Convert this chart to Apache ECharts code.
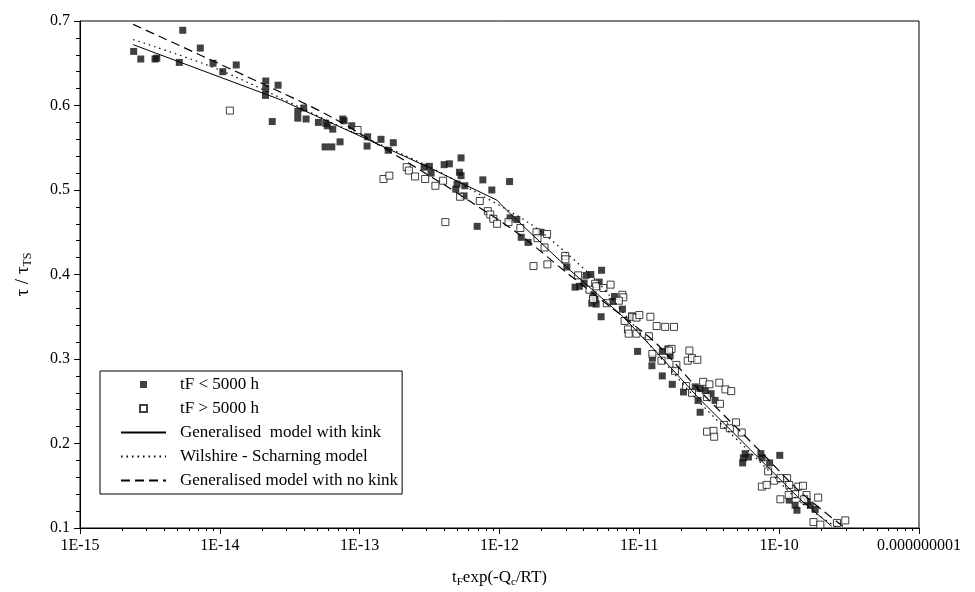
<!DOCTYPE html>
<html>
<head>
<meta charset="utf-8">
<script src="https://cdn.jsdelivr.net/npm/echarts@6/dist/echarts.min.js"></script>
<style>
  html, body { margin: 0; padding: 0; background: #fff; }
  #chart { width: 975px; height: 592px; }
</style>
</head>
<body>
<div id="chart"></div>
<script>
// tick labels of the log axis, one per decade
const xTickLabels = ['1E-15', '1E-14', '1E-13', '1E-12', '1E-11', '1E-10', '0.000000001']

// tF < 5000 h  (filled squares)  [tF exp(-Qc/RT), tau/tauTS]
const shortLife = [
  [2.42e-15, 0.664], [2.72e-15, 0.655], [3.44e-15, 0.655], [3.54e-15, 0.656], [5.43e-15, 0.689],
  [5.13e-15, 0.651], [7.25e-15, 0.668], [8.94e-15, 0.650], [1.05e-14, 0.640], [1.31e-14, 0.648],
  [2.13e-14, 0.629], [2.13e-14, 0.620], [2.12e-14, 0.612], [2.61e-14, 0.624], [2.37e-14, 0.581],
  [3.61e-14, 0.593], [3.61e-14, 0.585], [3.98e-14, 0.597], [4.14e-14, 0.584], [5.07e-14, 0.580],
  [5.72e-14, 0.579], [5.87e-14, 0.576], [6.42e-14, 0.572], [5.66e-14, 0.551], [6.32e-14, 0.551],
  [7.24e-14, 0.557], [7.57e-14, 0.584], [7.73e-14, 0.582], [8.78e-14, 0.576], [1.14e-13, 0.563],
  [1.13e-13, 0.552], [1.42e-13, 0.560], [1.74e-13, 0.556], [1.60e-13, 0.547], [2.89e-13, 0.527],
  [3.15e-13, 0.528], [3.24e-13, 0.520], [4.02e-13, 0.530], [4.38e-13, 0.531], [5.31e-13, 0.538],
  [5.17e-13, 0.521], [5.31e-13, 0.517], [4.97e-13, 0.507], [4.87e-13, 0.501], [5.65e-13, 0.505],
  [5.58e-13, 0.493], [7.60e-13, 0.512], [8.81e-13, 0.500], [1.18e-12, 0.510], [6.92e-13, 0.457],
  [1.19e-12, 0.467], [1.33e-12, 0.465], [1.43e-12, 0.444], [1.60e-12, 0.438], [1.98e-12, 0.450],
  [3.03e-12, 0.409], [4.16e-12, 0.399], [4.50e-12, 0.400], [3.47e-12, 0.385], [3.73e-12, 0.386],
  [4.03e-12, 0.390], [5.37e-12, 0.405], [5.16e-12, 0.391], [4.67e-12, 0.376], [4.83e-12, 0.370],
  [4.91e-12, 0.365], [4.57e-12, 0.366], [5.33e-12, 0.350], [6.64e-12, 0.374], [6.42e-12, 0.368],
  [7.57e-12, 0.359], [8.81e-12, 0.351], [9.72e-12, 0.309], [1.46e-11, 0.309], [1.60e-11, 0.312],
  [1.24e-11, 0.301], [1.23e-11, 0.292], [1.66e-11, 0.304], [1.46e-11, 0.280], [1.72e-11, 0.270],
  [2.51e-11, 0.267], [2.72e-11, 0.265], [2.96e-11, 0.263], [2.07e-11, 0.261], [2.63e-11, 0.251],
  [2.72e-11, 0.237], [3.26e-11, 0.259], [3.48e-11, 0.251], [5.71e-11, 0.188], [5.55e-11, 0.183],
  [5.48e-11, 0.177], [6.03e-11, 0.184], [7.40e-11, 0.188], [7.56e-11, 0.183], [8.55e-11, 0.177],
  [1.01e-10, 0.186], [1.18e-10, 0.133], [1.30e-10, 0.127], [1.34e-10, 0.121], [1.59e-10, 0.131],
  [1.67e-10, 0.127], [1.81e-10, 0.122]
]

// tF > 5000 h  (open squares)
const longLife = [
  [1.18e-14, 0.594], [9.66e-14, 0.571], [2.17e-13, 0.527], [2.25e-13, 0.523], [1.48e-13, 0.513],
  [1.63e-13, 0.517], [2.49e-13, 0.516], [2.94e-13, 0.513], [3.48e-13, 0.505], [3.95e-13, 0.511],
  [5.23e-13, 0.492], [4.10e-13, 0.462], [7.23e-13, 0.487], [8.25e-13, 0.475], [8.59e-13, 0.471],
  [9.03e-13, 0.466], [9.61e-13, 0.460], [1.16e-12, 0.462], [1.41e-12, 0.455], [1.84e-12, 0.450],
  [1.87e-12, 0.443], [2.19e-12, 0.448], [2.10e-12, 0.432], [1.75e-12, 0.410], [2.20e-12, 0.412],
  [2.95e-12, 0.422], [2.96e-12, 0.418], [3.65e-12, 0.399], [4.83e-12, 0.389], [4.91e-12, 0.386],
  [5.54e-12, 0.384], [6.23e-12, 0.388], [4.40e-12, 0.382], [4.67e-12, 0.371], [5.85e-12, 0.366],
  [7.56e-12, 0.376], [7.68e-12, 0.373], [7.14e-12, 0.369], [7.85e-12, 0.345], [8.88e-12, 0.350],
  [9.54e-12, 0.349], [1.00e-11, 0.352], [8.29e-12, 0.335], [8.39e-12, 0.330], [9.54e-12, 0.330],
  [1.20e-11, 0.350], [1.17e-11, 0.327], [1.33e-11, 0.339], [1.53e-11, 0.338], [1.77e-11, 0.338],
  [1.24e-11, 0.306], [1.70e-11, 0.312], [1.63e-11, 0.310], [2.28e-11, 0.310], [2.22e-11, 0.298],
  [2.38e-11, 0.301], [2.60e-11, 0.299], [1.44e-11, 0.298], [1.84e-11, 0.293], [1.80e-11, 0.286],
  [2.16e-11, 0.268], [2.38e-11, 0.260], [2.86e-11, 0.273], [3.17e-11, 0.270], [3.73e-11, 0.272],
  [4.13e-11, 0.264], [4.54e-11, 0.262], [3.04e-11, 0.255], [3.77e-11, 0.247], [3.05e-11, 0.214],
  [3.39e-11, 0.215], [3.43e-11, 0.208], [4.04e-11, 0.222], [4.44e-11, 0.218], [4.91e-11, 0.225],
  [5.40e-11, 0.213], [8.34e-11, 0.167], [7.52e-11, 0.149], [8.14e-11, 0.151], [9.21e-11, 0.156],
  [1.02e-10, 0.159], [1.14e-10, 0.159], [1.18e-10, 0.151], [1.30e-10, 0.140], [1.37e-10, 0.149],
  [1.48e-10, 0.150], [1.57e-10, 0.139], [1.02e-10, 0.134], [1.17e-10, 0.139], [1.51e-10, 0.134],
  [1.90e-10, 0.136], [1.76e-10, 0.107], [1.97e-10, 0.104], [2.59e-10, 0.106], [2.97e-10, 0.109]
]

// model curves
const kinkModel = [
  [2.4e-15, 0.672], [2.7e-14, 0.607], [3.19e-13, 0.526], [9.57e-13, 0.488], [1.19e-12, 0.472],
  [3.2e-12, 0.405], [7.66e-12, 0.350], [1.33e-11, 0.308], [2.72e-11, 0.252], [1.41e-10, 0.134],
  [2.38e-10, 0.102]
]
const wilshireModel = [
  [2.4e-15, 0.678], [1.0e-14, 0.642], [6.86e-14, 0.577], [3.19e-13, 0.527], [6.51e-13, 0.499],
  [1.66e-12, 0.460], [3.03e-12, 0.425], [5.24e-12, 0.388], [7.66e-12, 0.355], [1.33e-11, 0.307],
  [2.72e-11, 0.248], [7.31e-11, 0.178], [1.41e-10, 0.131], [2.64e-10, 0.100]
]
const noKinkModel = [
  [2.4e-15, 0.696], [2.7e-14, 0.616], [6.49e-14, 0.585], [3.37e-13, 0.514], [6.51e-13, 0.484],
  [1.40e-12, 0.447], [3.03e-12, 0.402], [7.66e-12, 0.350], [1.33e-11, 0.318], [2.72e-11, 0.262],
  [7.31e-11, 0.191], [1.41e-10, 0.143], [2.96e-10, 0.100]
]

// minor tick positions 2..9 in each decade
const minorTicks = []
for (let d = -15; d < -9; d++) {
  for (let m = 2; m <= 9; m++) minorTicks.push(m * Math.pow(10, d))
}

const serif = 'Liberation Serif'
const black = '#000'
// small square centred in a 45x7 legend cell
const squareIcon = 'path://M0,0M45,7M19,0h7v7h-7z'

const chart = echarts.init(document.getElementById('chart'))
chart.setOption({
  animation: false,
  backgroundColor: '#fff',
  grid: {
    left: 80, right: 56, top: 21, bottom: 64,
    show: true, borderColor: black, borderWidth: 1,
    outerBoundsMode: 'none'
  },
  legend: {
    left: 100, top: 371,
    orient: 'vertical',
    selectedMode: false,
    itemWidth: 45, itemHeight: 7, itemGap: 7,
    padding: [5, 4, 5, 20],
    borderColor: black, borderWidth: 1,
    textStyle: { fontFamily: serif, fontSize: 17, color: black, lineHeight: 16, padding: [0, 0, 0, 9] },
    data: [
      { name: 'tF < 5000 h', icon: squareIcon },
      { name: 'tF > 5000 h', icon: squareIcon },
      { name: 'Generalised  model with kink', itemStyle: { opacity: 0 } },
      { name: 'Wilshire - Scharning model', itemStyle: { opacity: 0 } },
      { name: 'Generalised model with no kink', itemStyle: { opacity: 0 } }
    ]
  },
  xAxis: [{
    type: 'log',
    logBase: 10,
    min: 1e-15,
    max: 1e-9,
    splitNumber: 6,
    splitLine: { show: false },
    axisLine: { lineStyle: { color: black, width: 1 } },
    axisTick: { length: 6, lineStyle: { color: black } },
    axisLabel: {
      margin: 10,
      fontFamily: serif, fontSize: 16, color: black,
      formatter: v => xTickLabels[Math.round(Math.log10(v)) + 15]
    },
    name: '{i|t}{s|F}{i|exp(-Q}{s|c}{i|/RT)}',
    nameLocation: 'middle',
    nameGap: 40,
    nameTextStyle: {
      rich: {
        i: { fontFamily: serif, fontSize: 17, color: black },
        s: { fontFamily: serif, fontSize: 11, color: black, padding: [9, 0, 0, 0] }
      }
    }
  }, {
    // second axis only carries the short log minor ticks
    type: 'log',
    logBase: 10,
    min: 1e-15,
    max: 1e-9,
    position: 'bottom',
    splitLine: { show: false },
    axisLine: { show: false },
    axisLabel: { show: false },
    axisTick: { length: 3, customValues: minorTicks, lineStyle: { color: black } }
  }],
  yAxis: {
    type: 'value',
    min: 0.1,
    max: 0.7,
    interval: 0.1,
    splitLine: { show: false },
    axisLine: { show: true, lineStyle: { color: black, width: 1 } },
    axisTick: { show: true, length: 6, lineStyle: { color: black } },
    minorTick: { show: true, splitNumber: 5, length: 4, lineStyle: { color: black } },
    axisLabel: {
      margin: 10,
      fontFamily: serif, fontSize: 16, color: black,
      formatter: v => v.toFixed(1)
    },
    name: '{g|τ / τ}{s|TS}',
    nameLocation: 'middle',
    nameGap: 46,
    nameTextStyle: {
      rich: {
        g: { fontFamily: serif, fontSize: 19, color: black },
        s: { fontFamily: serif, fontSize: 12, color: black, padding: [9, 0, 0, 0] }
      }
    }
  },
  series: [{
    name: 'tF < 5000 h',
    type: 'scatter',
    symbol: 'rect',
    symbolSize: 7,
    itemStyle: { color: '#111' },
    data: shortLife
  }, {
    name: 'tF > 5000 h',
    type: 'scatter',
    symbol: 'rect',
    symbolSize: 7,
    itemStyle: { color: '#fff', borderColor: '#111', borderWidth: 1 },
    data: longLife
  }, {
    name: 'Generalised  model with kink',
    type: 'line',
    symbol: 'none',
    itemStyle: { color: black },
    lineStyle: { color: black, width: 1 },
    data: kinkModel
  }, {
    name: 'Wilshire - Scharning model',
    type: 'line',
    symbol: 'none',
    smooth: 0.3,
    itemStyle: { color: black },
    lineStyle: { color: black, width: 1.2, type: [1.5, 4] },
    data: wilshireModel
  }, {
    name: 'Generalised model with no kink',
    type: 'line',
    symbol: 'none',
    smooth: 0.3,
    itemStyle: { color: black },
    lineStyle: { color: black, width: 1.2, type: [9, 5] },
    data: noKinkModel
  }]
})
</script>
</body>
</html>
